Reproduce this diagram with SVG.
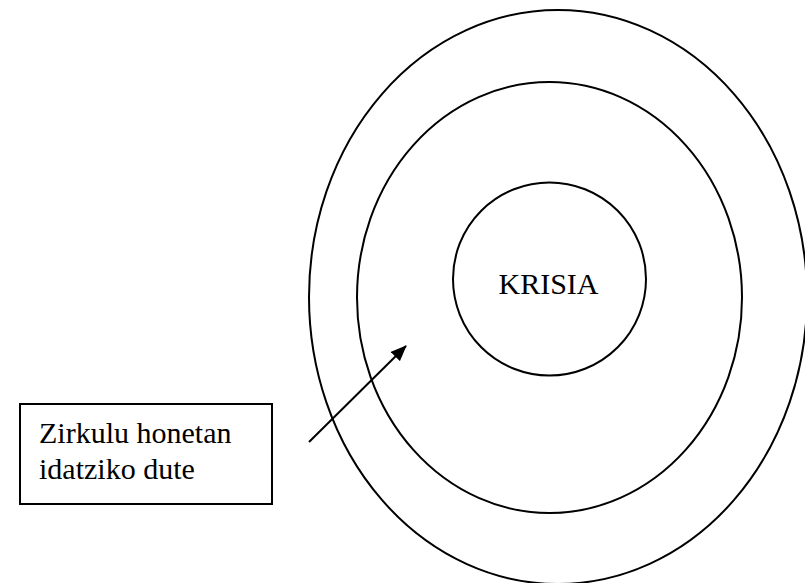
<svg xmlns="http://www.w3.org/2000/svg" width="805" height="583" viewBox="0 0 805 583">
<defs>
<style>
.ring{fill:none;stroke:#000;stroke-width:2}
.lbl{font-family:"Liberation Serif","Times New Roman",serif;font-size:30px;fill:#000}
.box{fill:#fff;stroke:#000;stroke-width:2}
</style>
<marker id="ah" markerWidth="16" markerHeight="13" refX="15" refY="6.5" orient="auto" markerUnits="userSpaceOnUse" viewBox="0 0 16 13">
<path d="M0,0 L16,6.5 L0,13 z" fill="#000"/>
</marker>
</defs>
<rect width="805" height="583" fill="#fff"/>
<g id="outer-ring"><ellipse class="ring" cx="558" cy="297" rx="249" ry="287"/></g>
<g id="middle-ring"><ellipse class="ring" cx="549.5" cy="297.5" rx="192.5" ry="215.5"/></g>
<g id="krisia"><circle class="ring" cx="549.5" cy="279" r="96.5"/>
<text class="lbl" x="548.5" y="294" text-anchor="middle">KRISIA</text></g>
<g id="note"><rect class="box" x="20" y="404" width="252" height="100"/>
<text class="lbl" x="39" y="443">Zirkulu honetan</text>
<text class="lbl" x="39" y="479">idatziko dute</text></g>
<g id="connectors"><line x1="309" y1="442" x2="406" y2="346" stroke="#000" stroke-width="2" marker-end="url(#ah)"/></g>
</svg>
